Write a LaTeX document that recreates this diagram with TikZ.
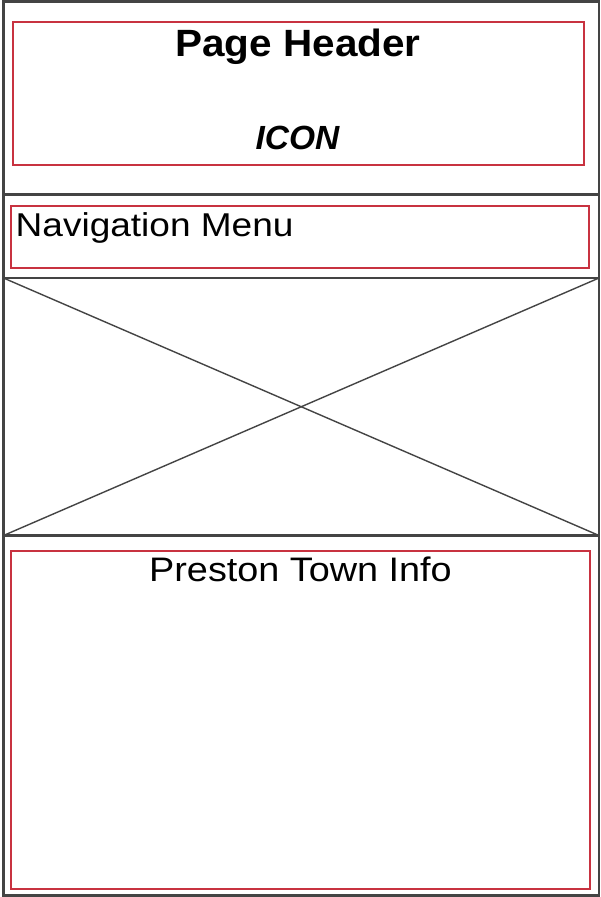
\documentclass[tikz,border=0pt]{standalone}
\usepackage{fontspec}
\setmainfont{Liberation Sans}
\definecolor{boxred}{RGB}{200,50,64}
\definecolor{framegray}{RGB}{68,68,68}
\begin{document}
\begin{tikzpicture}[x=1pt,y=-1pt,
  frameline/.style={draw=framegray,line width=2.6pt},
  crossline/.style={draw=framegray,line width=1.4pt},
  redbox/.style={draw=boxred,line width=2pt},
  lbl/.style={inner sep=0pt,anchor=base,text=black}]
\useasboundingbox[fill=white] (0,0) rectangle (601,897);
% outer frame
\draw[frameline] (3.5,1.5) rectangle (599,895.5);
% separators
\coordinate (s1l) at (3.5,194.5); \coordinate (s1r) at (599,194.5);
\coordinate (s2l) at (3.5,278); \coordinate (s2r) at (599,278);
\coordinate (s3l) at (3.5,535.5); \coordinate (s3r) at (599,535.5);
\draw[frameline] (s1l) -- (s1r);
\draw[frameline] (s2l) -- (s2r);
\draw[frameline] (s3l) -- (s3r);
% image placeholder cross
\draw[crossline] (s2l) -- (s3r);
\draw[crossline] (s3l) -- (s2r);
% red boxes
\draw[redbox] (13,22) rectangle (584,164.5);
\draw[redbox] (11,206) rectangle (589,267.5);
\draw[redbox] (11,551) rectangle (590,889);
% texts
\node[lbl,font=\fontsize{38}{40}\selectfont\bfseries] (ph) at (298,56) {\scalebox{1.065}[1]{Page Header}};
\node[lbl,font=\fontsize{33.5}{36}\selectfont\bfseries\itshape] (icon) at (297.5,149) {ICON};
\node[lbl,anchor=base west,font=\fontsize{33}{36}\selectfont] (nav) at (15.5,236) {\scalebox{1.122}[1]{Navigation Menu}};
\node[lbl,font=\fontsize{34}{36}\selectfont] (info) at (300.5,581) {\scalebox{1.112}[1]{Preston Town Info}};
\end{tikzpicture}
\end{document}
